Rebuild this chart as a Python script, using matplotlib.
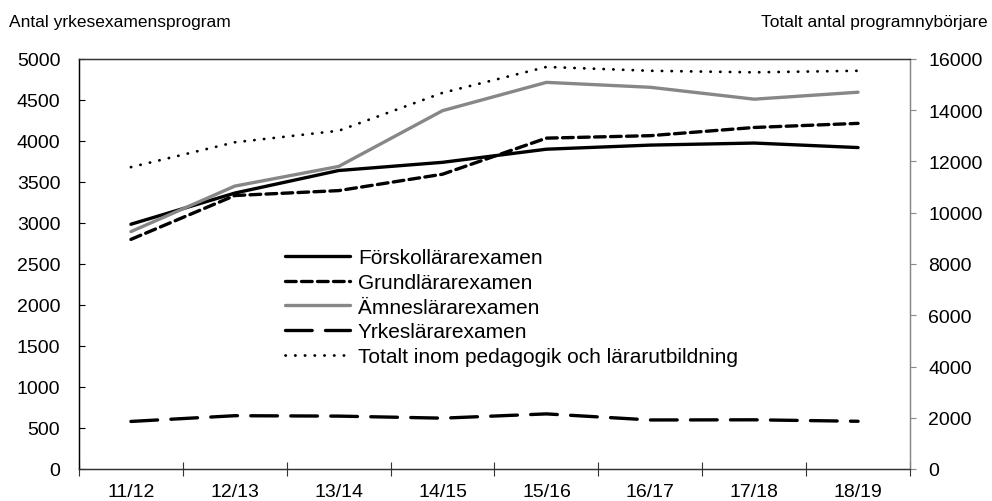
import matplotlib
matplotlib.use("Agg")
import matplotlib.pyplot as plt
import numpy as np

plt.rcParams['font.family'] = ['Liberation Sans', 'DejaVu Sans']

# Läsår och värden
years = ['11/12', '12/13', '13/14', '14/15', '15/16', '16/17', '17/18', '18/19']
forskollarare = [2985, 3365, 3640, 3740, 3900, 3950, 3975, 3920]
grundlarare = [2800, 3335, 3395, 3595, 4035, 4065, 4165, 4215]
amneslarare = [2895, 3450, 3690, 4370, 4715, 4655, 4510, 4595]
yrkeslarare = [580, 650, 645, 620, 672, 598, 600, 582]
totalt = [11780, 12750, 13200, 14680, 15690, 15540, 15480, 15540]

x = np.arange(len(years))

fig = plt.figure(figsize=(9.92, 5.02), dpi=100)
ax = fig.add_axes([79/992, 1-470/502, 831/992, 410/502])
ax2 = ax.twinx()

l1, = ax.plot(x, forskollarare, color='black', lw=2.4, solid_capstyle='round',
              label='Förskollärarexamen')
l2, = ax.plot(x, grundlarare, color='black', lw=2.4, dashes=(3.2, 1.6),
              dash_capstyle='round', label='Grundlärarexamen')
l3, = ax.plot(x, amneslarare, color='#878787', lw=2.4, solid_capstyle='round',
              label='Ämneslärarexamen')
l4, = ax.plot(x, yrkeslarare, color='black', lw=2.4, dashes=(8, 4),
              dash_capstyle='round', label='Yrkeslärarexamen')
l5, = ax2.plot(x, totalt, color='black', lw=2.0, dashes=(0.1, 3.4),
               dash_capstyle='round',
               label='Totalt inom pedagogik och lärarutbildning')

ax.set_xlim(-0.5, len(years) - 0.5)
ax.set_ylim(0, 5000)
ax.set_yticks(np.arange(0, 5001, 500))
ax2.set_ylim(0, 16000)
ax2.set_yticks(np.arange(0, 16001, 2000))

# kategorigränser som huvudmarkeringar, etiketter mitt i varje kategori
ax.set_xticks(np.arange(-0.5, len(years), 1))
ax.set_xticklabels([])
ax.set_xticks(x, minor=True)
ax.set_xticklabels(years, minor=True, fontsize=14)
ax.tick_params(axis='x', which='major', direction='inout', length=10, width=0.8,
               color='#333333')
ax.tick_params(axis='x', which='minor', length=0, pad=10)
ax.tick_params(axis='y', direction='in', length=4.5, width=0.8, labelsize=14, pad=13.5)
ax2.tick_params(axis='y', direction='out', length=4, width=0.8, labelsize=14,
                pad=9, color='#888888')

for a in (ax, ax2):
    a.spines['left'].set_color('black')
    a.spines['bottom'].set_color('#333333')
    a.spines['top'].set_color('#333333')
    a.spines['right'].set_color('#888888')
    for s in a.spines.values():
        s.set_linewidth(0.9)

fig.text(9/992, 1-22/502, 'Antal yrkesexamensprogram', fontsize=12.5, va='center', ha='left')
fig.text(988/992, 1-22/502, 'Totalt antal programnybörjare', fontsize=12.5, va='center', ha='right')

leg = ax2.legend(handles=[l1, l2, l3, l4, l5], loc='upper left',
                 bbox_to_anchor=(285/992, 1-249/502), bbox_transform=fig.transFigure,
                 frameon=False, fontsize=15, handlelength=3.1, handletextpad=0.4,
                 labelspacing=0.28, borderaxespad=0, borderpad=0)

fig.savefig('out.png', dpi=100)
